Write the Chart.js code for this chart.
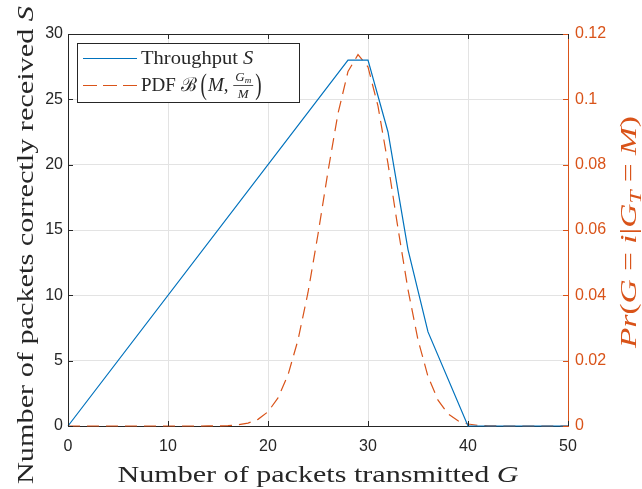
<!DOCTYPE html>
<html>
<head>
<meta charset="utf-8">
<script src="https://cdn.jsdelivr.net/npm/chart.js@4.4.1/dist/chart.umd.min.js"></script>
<style>
  html, body { margin: 0; padding: 0; background: #fff; }
  #wrap { width: 642px; height: 489px; }
</style>
</head>
<body>
<div id="wrap"><canvas id="chart" width="642" height="489"></canvas></div>
<script>
/* ---------- data ---------- */
const gThroughput = [0, 28, 30, 32, 34, 36, 40, 50];
const throughputS = [0, 28, 28, 22.5, 13.5, 7.2, 0, 0];

const gPdf = [0, 1, 2, 3, 4, 5, 6, 7, 8, 9, 10, 11, 12, 13, 14, 15, 16, 17, 18, 19, 20,
  21, 22, 23, 24, 25, 26, 27, 28, 29, 30, 31, 32, 33, 34, 35, 36, 37, 38, 39, 40,
  41, 42, 43, 44, 45, 46, 47, 48, 49, 50];
const pdfValues = [0, 0, 0, 0, 0, 0, 0, 0, 0, 0, 0, 0, 0, 0, 0.0000125, 0.0000414,
  0.000125, 0.000346, 0.000875, 0.002036, 0.004358, 0.008597, 0.01565, 0.02631,
  0.04087, 0.0587, 0.07795, 0.09568, 0.10853, 0.1137, 0.10991, 0.09792, 0.08029,
  0.06048, 0.04176, 0.02636, 0.01517, 0.007926, 0.003745, 0.001591, 0.000604,
  0.000204, 0.0000603, 0.0000155, 0, 0, 0, 0, 0, 0, 0];

const xTicks = [0, 10, 20, 30, 40, 50];
const yTicks = [0, 5, 10, 15, 20, 25, 30];
const y1Ticks = [0, 0.02, 0.04, 0.06, 0.08, 0.1, 0.12];

/* ---------- style ---------- */
const AXIS_DARK = "#262626";
const GRID = "#e3e3e3";
const BLUE = "#0072BD";
const ORANGE = "#D95319";
const SERIF = '"Liberation Serif", "Times New Roman", serif';
const SANS = '"Liberation Sans", Arial, Helvetica, sans-serif';
const DASH = [12, 7];

/* draw a row of text pieces (mixed italic / size) starting at x on baseline y */
function runsWidth(ctx, runs, size) {
  let w = 0;
  runs.forEach(r => {
    ctx.font = `${r.italic ? "italic " : ""}${(r.scale || 1) * size}px ${SERIF}`;
    w += ctx.measureText(r.text).width;
  });
  return w;
}
function drawRuns(ctx, runs, x, y, size) {
  runs.forEach(r => {
    ctx.font = `${r.italic ? "italic " : ""}${(r.scale || 1) * size}px ${SERIF}`;
    ctx.fillText(r.text, x, y + (r.dy || 0));
    x += ctx.measureText(r.text).width;
  });
  return x;
}
// centred on (0,0), stretched sideways to the width the picture shows
// (LaTeX Computer Modern runs wider than Times)
function drawTitle(ctx, runs, size, target) {
  const w = runsWidth(ctx, runs, size);
  ctx.save();
  ctx.scale(target / w, 1);
  drawRuns(ctx, runs, -w / 2, 0, size);
  ctx.restore();
}

/* ---------- axis titles ---------- */
const titles = {
  id: "titles",
  afterDraw(chart) {
    const { ctx, chartArea: a } = chart;
    ctx.save();
    ctx.textBaseline = "alphabetic";
    ctx.textAlign = "left";

    // bottom
    ctx.fillStyle = AXIS_DARK;
    ctx.save();
    ctx.translate((a.left + a.right) / 2, 482);
    drawTitle(ctx, [{ text: "Number of packets transmitted " }, { text: "G", italic: true }], 24, 401);
    ctx.restore();

    // left
    ctx.save();
    ctx.translate(33, 245);
    ctx.rotate(-Math.PI / 2);
    drawTitle(ctx, [{ text: "Number of packets correctly received " }, { text: "S", italic: true }], 24, 478);
    ctx.restore();

    // right
    const rRuns = [
      { text: "P", italic: true }, { text: "r", italic: true }, { text: "(" },
      { text: "G", italic: true }, { text: " = " }, { text: "i", italic: true },
      { text: "|" }, { text: "G", italic: true },
      { text: "T", italic: true, scale: 0.7, dy: 5 },
      { text: " = " }, { text: "M", italic: true }, { text: ")" }
    ];
    ctx.fillStyle = ORANGE;
    ctx.save();
    ctx.translate(636, 232);
    ctx.rotate(-Math.PI / 2);
    drawTitle(ctx, rRuns, 24, 232);
    ctx.restore();

    ctx.restore();
  }
};

/* ---------- box, inward ticks ---------- */
const frame = {
  id: "frame",
  afterDatasetsDraw(chart) {
    const { ctx, chartArea: a, scales } = chart;
    const T = 5;
    ctx.save();
    ctx.lineWidth = 1;
    ctx.strokeStyle = AXIS_DARK;
    ctx.beginPath();
    ctx.moveTo(a.left, Math.round(a.top) + 0.5);
    ctx.lineTo(a.right, Math.round(a.top) + 0.5);
    xTicks.forEach(v => {
      const px = Math.round(scales.x.getPixelForValue(v)) + 0.5;
      ctx.moveTo(px, a.bottom); ctx.lineTo(px, a.bottom - T);
      ctx.moveTo(px, a.top); ctx.lineTo(px, a.top + T);
    });
    yTicks.forEach(v => {
      const py = Math.round(scales.y.getPixelForValue(v)) + 0.5;
      ctx.moveTo(a.left, py); ctx.lineTo(a.left + T, py);
    });
    ctx.stroke();
    ctx.strokeStyle = ORANGE;
    ctx.beginPath();
    y1Ticks.forEach(v => {
      const py = Math.round(scales.y1.getPixelForValue(v)) + 0.5;
      ctx.moveTo(a.right, py); ctx.lineTo(a.right - T, py);
    });
    ctx.stroke();
    ctx.restore();
  }
};

/* ---------- legend (fraction needs hand drawing) ---------- */
const legendBox = {
  id: "legendBox",
  afterDraw(chart) {
    const ctx = chart.ctx;
    const size = 19;
    ctx.save();
    ctx.fillStyle = "#fff";
    ctx.fillRect(77, 43, 222, 59);
    ctx.strokeStyle = AXIS_DARK;
    ctx.lineWidth = 1;
    ctx.strokeRect(77.5, 43.5, 222, 59);

    // samples
    ctx.lineWidth = 1.2;
    ctx.strokeStyle = BLUE;
    ctx.beginPath(); ctx.moveTo(83, 58.5); ctx.lineTo(137, 58.5); ctx.stroke();
    ctx.strokeStyle = ORANGE;
    ctx.setLineDash([14, 6]);
    ctx.beginPath(); ctx.moveTo(83, 85.5); ctx.lineTo(137, 85.5); ctx.stroke();
    ctx.setLineDash([]);

    ctx.fillStyle = AXIS_DARK;
    ctx.textBaseline = "alphabetic";
    ctx.save();
    ctx.translate(141, 64);
    ctx.scale(1.08, 1);
    drawRuns(ctx, [{ text: "Throughput " }, { text: "S", italic: true }], 0, 0, size);
    ctx.restore();

    let x = drawRuns(ctx, [{ text: "PDF " }, { text: "\u212C" }], 141, 91, size);
    // tall parenthesis
    const paren = (ch, px) => {
      ctx.save();
      ctx.font = `${size}px ${SERIF}`;
      ctx.translate(px, 86);
      ctx.scale(1, 1.55);
      ctx.fillText(ch, 0, 5);
      ctx.restore();
      return px + ctx.measureText(ch).width;
    };
    ctx.font = `${size}px ${SERIF}`;
    x = paren("(", x + 4);
    x = drawRuns(ctx, [{ text: "M", italic: true }, { text: ", " }], x + 1, 91, size);
    // fraction Gm / M
    const fs = 13;
    ctx.font = `italic ${fs}px ${SERIF}`;
    const gW = ctx.measureText("G").width;
    ctx.font = `italic ${fs * 0.7}px ${SERIF}`;
    const mW = ctx.measureText("m").width;
    ctx.font = `italic ${fs}px ${SERIF}`;
    const dW = ctx.measureText("M").width;
    const fw = Math.max(gW + mW, dW) + 4;
    drawRuns(ctx, [{ text: "G", italic: true }, { text: "m", italic: true, scale: 0.7, dy: 2 }],
      x + (fw - gW - mW) / 2, 81, fs);
    ctx.fillRect(x, 85, fw, 0.8);
    drawRuns(ctx, [{ text: "M", italic: true }], x + (fw - dW) / 2, 98, fs);
    x += fw + 2;
    paren(")", x);
    ctx.restore();
  }
};

/* ---------- chart ---------- */
const ctx = document.getElementById("chart").getContext("2d");

new Chart(ctx, {
  type: "line",
  data: {
    datasets: [
      {
        label: "Throughput S",
        data: gThroughput.map((g, i) => ({ x: g, y: throughputS[i] })),
        yAxisID: "y",
        borderColor: BLUE,
        borderWidth: 1.2,
        pointRadius: 0,
        tension: 0,
        clip: false
      },
      {
        label: "PDF B(M, Gm/M)",
        data: gPdf.map((g, i) => ({ x: g, y: pdfValues[i] })),
        yAxisID: "y1",
        borderColor: ORANGE,
        borderWidth: 1.2,
        borderDash: DASH,
        pointRadius: 0,
        tension: 0,
        clip: false
      }
    ]
  },
  options: {
    responsive: false,
    animation: false,
    devicePixelRatio: 1,
    layout: { padding: { top: 34, left: 0, right: 0, bottom: 0 } },
    plugins: {
      legend: { display: false },
      tooltip: { enabled: false }
    },
    scales: {
      x: {
        type: "linear",
        min: 0,
        max: 50,
        afterBuildTicks: s => { s.ticks = xTicks.map(v => ({ value: v })); },
        afterFit: s => { s.height = 63; },
        grid: { color: GRID, drawTicks: false },
        border: { color: AXIS_DARK },
        ticks: { color: AXIS_DARK, font: { family: SANS, size: 16 }, padding: 11, maxRotation: 0 }
      },
      y: {
        position: "left",
        min: 0,
        max: 30,
        afterBuildTicks: s => { s.ticks = yTicks.map(v => ({ value: v })); },
        afterFit: s => { s.width = 68; },
        grid: { color: GRID, drawTicks: false },
        border: { color: AXIS_DARK },
        ticks: { color: AXIS_DARK, font: { family: SANS, size: 16 }, padding: 5 }
      },
      y1: {
        position: "right",
        min: 0,
        max: 0.12,
        afterBuildTicks: s => { s.ticks = y1Ticks.map(v => ({ value: v })); },
        afterFit: s => { s.width = 74; },
        grid: { drawOnChartArea: false, drawTicks: false },
        border: { color: ORANGE },
        ticks: {
          color: ORANGE,
          font: { family: SANS, size: 16 },
          padding: 7,
          callback: v => String(+v.toFixed(2))
        }
      }
    }
  },
  plugins: [frame, titles, legendBox]
});
</script>
</body>
</html>
